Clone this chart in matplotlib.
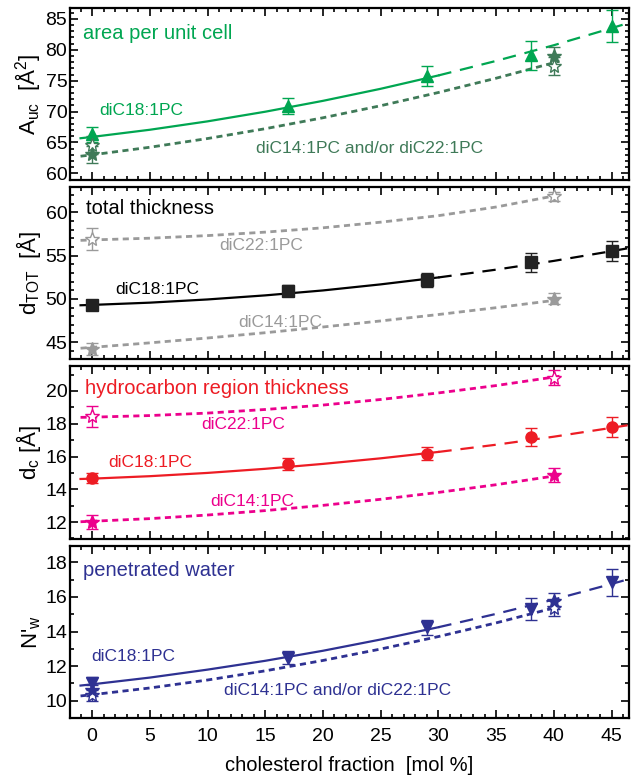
import matplotlib
matplotlib.use("Agg")
import matplotlib.pyplot as plt
from matplotlib.ticker import MultipleLocator

plt.rcParams['font.family'] = ['Liberation Sans', 'DejaVu Sans']
plt.rcParams['mathtext.fontset'] = 'custom'
plt.rcParams['mathtext.rm'] = 'Liberation Sans'
plt.rcParams['mathtext.it'] = 'Liberation Sans'

# measured points (cholesterol fraction, mol %)
x_c18 = [0, 17, 29, 38, 45]
x_star = [0, 40]

# fit curves
fx_solid = [-1, 0, 5, 10, 15, 20, 25, 30]
fx_dash = [30, 35, 40, 45, 46.5]
fx_dot = [-1, 0, 5, 10, 15, 20, 25, 30, 35, 40.5]

# area per unit cell
auc18 = [66.3, 70.9, 75.8, 79.1, 83.8]
auc18_err = [1.2, 1.3, 1.6, 2.3, 2.6]
auc14 = [63.1, 79.0]
auc14_err = [1.4, 1.5]
auc22 = [64.6, 77.4]
auc22_err = [1.5, 1.4]
auc18_solid = [65.69, 65.9, 67.06, 68.42, 69.98, 71.74, 73.69, 75.85]
auc18_dash = [75.85, 78.20, 80.74, 83.50, 84.36]
auc_dot = [62.78, 63.0, 64.23, 65.64, 67.23, 69.0, 70.95, 73.09, 75.40, 78.16]

# total thickness
dtot18 = [49.3, 50.96, 52.2, 54.2, 55.5]
dtot18_err = [0.55, 0.65, 0.8, 1.05, 1.15]
dtot22 = [56.9, 61.85]
dtot22_err = [1.3, 0.5]
dtot14 = [44.2, 50.0]
dtot14_err = [0.65, 0.65]
dtot18_solid = [49.26, 49.3, 49.56, 49.93, 50.40, 50.97, 51.67, 52.47]
dtot18_dash = [52.47, 53.37, 54.38, 55.5, 55.86]
dtot22_dot = [56.75, 56.8, 57.0, 57.3, 57.7, 58.2, 58.85, 59.6, 60.6, 62.0]
dtot14_dot = [44.30, 44.4, 44.92, 45.48, 46.09, 46.75, 47.45, 48.19, 48.98, 49.9]

# hydrocarbon region thickness
dc18 = [14.67, 15.53, 16.16, 17.19, 17.8]
dc18_err = [0.3, 0.35, 0.4, 0.57, 0.62]
dc22 = [18.46, 20.82]
dc22_err = [0.65, 0.45]
dc14 = [12.0, 14.87]
dc14_err = [0.45, 0.4]
dc18_solid = [14.63, 14.65, 14.80, 15.0, 15.25, 15.55, 15.89, 16.28]
dc18_dash = [16.28, 16.72, 17.21, 17.75, 17.92]
dc22_dot = [18.39, 18.4, 18.50, 18.65, 18.87, 19.14, 19.48, 19.88, 20.33, 20.90]
dc14_dot = [12.02, 12.05, 12.21, 12.43, 12.70, 13.02, 13.39, 13.81, 14.28, 14.86]

# penetrated water
nw18 = [11.0, 12.5, 14.24, 15.3, 16.84]
nw18_err = [0.35, 0.35, 0.42, 0.65, 0.77]
nw14 = [10.6, 15.75]
nw14_err = [0.3, 0.45]
nw22 = [10.35, 15.35]
nw22_err = [0.35, 0.45]
nw18_solid = [10.88, 10.95, 11.34, 11.80, 12.31, 12.89, 13.54, 14.25]
nw18_dash = [14.25, 15.02, 15.85, 16.75, 17.03]
nw_dot = [10.28, 10.35, 10.74, 11.20, 11.73, 12.33, 12.99, 13.71, 14.50, 15.45]

green = '#00a651'
dkgreen = '#3f7a58'
grey = '#9a9a9a'
red = '#ed1c24'
magenta = '#ec008c'
navy = '#2e3192'

DASH = (0, (6, 4))
DOT = (0, (2.2, 1.6))
TITLE_FS = 14.5
LAB_FS = 12.5


def points(ax, x, y, err, marker, color, ms, filled=True):
    ax.errorbar(x, y, yerr=err, fmt=marker, ms=ms, color=color,
                mfc=color if filled else 'white', mec=color, mew=1.0,
                ecolor=color, elinewidth=1.0, capsize=4, capthick=1.0,
                zorder=4)


def style(ax, ylim, ymaj):
    ax.set_xlim(-1.9, 46.5)
    ax.set_ylim(*ylim)
    ax.xaxis.set_major_locator(MultipleLocator(5))
    ax.xaxis.set_minor_locator(MultipleLocator(1))
    ax.yaxis.set_major_locator(MultipleLocator(ymaj))
    ax.yaxis.set_minor_locator(MultipleLocator(1))
    ax.tick_params(which='both', direction='in', top=True, right=True,
                   labelsize=14, width=1.2)
    ax.tick_params(axis='y', pad=2)
    ax.tick_params(axis='x', pad=7)
    ax.tick_params(which='major', length=6)
    ax.tick_params(which='minor', length=3)
    for s in ax.spines.values():
        s.set_linewidth(1.6)


fig, axes = plt.subplots(4, 1, figsize=(6.32, 7.78), dpi=100, sharex=True)
fig.subplots_adjust(left=0.111, right=0.995, top=0.99, bottom=0.077, hspace=0.04)
ax1, ax2, ax3, ax4 = axes

# panel 1: area per unit cell
ax1.plot(fx_solid, auc18_solid, color=green, lw=1.6)
ax1.plot(fx_dash, auc18_dash, color=green, lw=1.6, ls=DASH)
ax1.plot(fx_dot, auc_dot, color=dkgreen, lw=2, ls=DOT)
points(ax1, x_c18, auc18, auc18_err, '^', green, 9)
points(ax1, x_star, auc22, auc22_err, '*', dkgreen, 10, filled=False)
points(ax1, x_star, auc14, auc14_err, '*', dkgreen, 10)
style(ax1, (58.9, 86.8), 5)
ax1.set_ylabel('A$_{\\mathrm{uc}}$  [Å$^2$]', fontsize=16, labelpad=2)
ax1.text(-0.8, 82.6, 'area per unit cell', color=green, fontsize=TITLE_FS, va='center')
ax1.text(0.6, 70.1, 'diC18:1PC', color=green, fontsize=LAB_FS, va='center')
ax1.text(14.2, 64.05, 'diC14:1PC and/or diC22:1PC', color=dkgreen, fontsize=LAB_FS,
         va='center')

# panel 2: total thickness
ax2.plot(fx_solid, dtot18_solid, color='black', lw=1.6)
ax2.plot(fx_dash, dtot18_dash, color='black', lw=1.6, ls=DASH)
ax2.plot(fx_dot, dtot22_dot, color=grey, lw=2, ls=DOT)
ax2.plot(fx_dot, dtot14_dot, color=grey, lw=2, ls=DOT)
points(ax2, x_c18, dtot18, dtot18_err, 's', '#222222', 8)
points(ax2, x_star, dtot22, dtot22_err, '*', grey, 10, filled=False)
points(ax2, x_star, dtot14, dtot14_err, '*', grey, 10)
style(ax2, (43.0, 62.9), 5)
ax2.set_ylabel('d$_{\\mathrm{TOT}}$  [Å]', fontsize=16, labelpad=2)
ax2.text(-0.5, 60.4, 'total thickness', color='black', fontsize=TITLE_FS, va='center')
ax2.text(11.0, 56.15, 'diC22:1PC', color=grey, fontsize=LAB_FS, va='center')
ax2.text(2.0, 51.1, 'diC18:1PC', color='black', fontsize=LAB_FS, va='center')
ax2.text(12.7, 47.25, 'diC14:1PC', color=grey, fontsize=LAB_FS, va='center')

# panel 3: hydrocarbon region thickness
ax3.plot(fx_solid, dc18_solid, color=red, lw=1.6)
ax3.plot(fx_dash, dc18_dash, color=red, lw=1.6, ls=DASH)
ax3.plot(fx_dot, dc22_dot, color=magenta, lw=2, ls=DOT)
ax3.plot(fx_dot, dc14_dot, color=magenta, lw=2, ls=DOT)
points(ax3, x_c18, dc18, dc18_err, 'o', red, 8)
points(ax3, x_star, dc22, dc22_err, '*', magenta, 10, filled=False)
points(ax3, x_star, dc14, dc14_err, '*', magenta, 10)
style(ax3, (10.98, 21.5), 2)
ax3.set_ylabel('d$_{\\mathrm{c}}$ [Å]', fontsize=16, labelpad=2)
ax3.text(-0.6, 20.15, 'hydrocarbon region thickness', color=red, fontsize=TITLE_FS,
         va='center')
ax3.text(9.5, 17.95, 'diC22:1PC', color=magenta, fontsize=LAB_FS, va='center')
ax3.text(1.4, 15.65, 'diC18:1PC', color=red, fontsize=LAB_FS, va='center')
ax3.text(10.2, 13.25, 'diC14:1PC', color=magenta, fontsize=LAB_FS, va='center')

# panel 4: penetrated water
ax4.plot(fx_solid, nw18_solid, color=navy, lw=1.6)
ax4.plot(fx_dash, nw18_dash, color=navy, lw=1.6, ls=DASH)
ax4.plot(fx_dot, nw_dot, color=navy, lw=2, ls=DOT)
points(ax4, x_c18, nw18, nw18_err, 'v', navy, 9)
points(ax4, x_star, nw22, nw22_err, '*', navy, 10, filled=False)
points(ax4, x_star, nw14, nw14_err, '*', navy, 10)
style(ax4, (9.0, 18.96), 2)
ax4.set_ylabel("N'$_{\\mathrm{w}}$", fontsize=16, labelpad=2)
ax4.text(-0.8, 17.5, 'penetrated water', color=navy, fontsize=TITLE_FS, va='center')
ax4.text(-0.1, 12.55, 'diC18:1PC', color=navy, fontsize=LAB_FS, va='center')
ax4.text(11.4, 10.6, 'diC14:1PC and/or diC22:1PC', color=navy, fontsize=LAB_FS,
         va='center')
ax4.set_xlabel('cholesterol fraction  [mol %]', fontsize=14.5, labelpad=8)

fig.align_ylabels(axes)
fig.savefig('out.png', dpi=100)
